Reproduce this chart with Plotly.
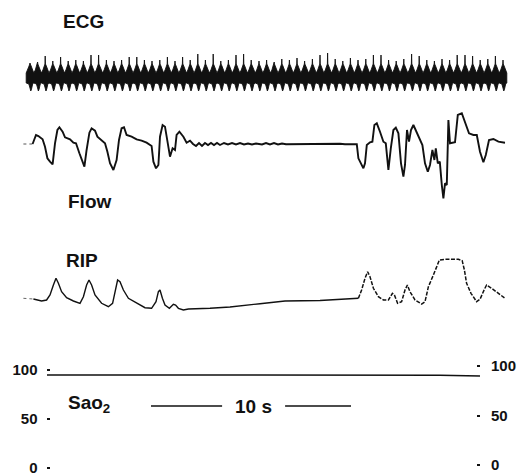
import numpy as np
import plotly.graph_objects as go

W, H = 519, 475
FONT = "Liberation Sans"

# ---------------- data (time in s; amplitudes in arbitrary units) ----------------
ecg_beat_t = [0.40, 0.78, 1.16, 1.54, 1.93, 2.31, 2.69, 3.07, 3.45, 3.83, 4.22, 4.60,
              4.98, 5.36, 5.74, 6.12, 6.50, 6.89, 7.27, 7.65, 8.03, 8.41, 8.79, 9.17,
              9.56, 9.94, 10.32, 10.70, 11.08, 11.46, 11.85, 12.23, 12.61, 12.99, 13.37,
              13.75, 14.13, 14.52, 14.90, 15.28, 15.66, 16.04, 16.42, 16.80, 17.19, 17.57,
              17.95, 18.33, 18.71, 19.09, 19.48, 19.86, 20.24, 20.62, 21.00, 21.38, 21.76,
              22.15, 22.53, 22.91, 23.29, 23.67, 24.05]
ecg_spike = [9, 10, 16, 11, 15, 11, 12, 11, 17, 17, 12, 11, 12, 15, 15, 12, 11, 12, 15,
             11, 15, 12, 18, 12, 18, 11, 12, 17, 18, 12, 11, 12, 10, 13, 12, 14, 11, 13,
             17, 19, 13, 11, 14, 12, 13, 17, 17, 12, 11, 13, 18, 16, 12, 11, 13, 12, 17,
             17, 16, 12, 13, 16, 12]
# beat shape (phase as fraction of the beat interval, level)
ecg_upper_phase = [-0.5, -0.3, -0.12, -0.03, 0.0, 0.03, 0.15, 0.35]
ecg_upper_level = [-1, 2, 6, 8, None, 8, 6, 2]     # None -> spike height of that beat
ecg_lower_phase = [-0.5, -0.15, 0.0, 0.1, 0.2, 0.35]
ecg_lower_level = [-11, -12, -16, -19, -17, -12]

flow_lead_t = [0.07, 0.53]
flow_lead_v = [0, 0]
flow_t = [0.53, 0.70, 0.82, 1.03, 1.15, 1.27, 1.40, 1.53, 1.65, 1.77, 1.87, 2.03, 2.15,
          2.40, 2.57, 2.70, 2.87, 2.98, 3.12, 3.23, 3.37, 3.48, 3.65, 3.77, 3.98, 4.15,
          4.27, 4.40, 4.57, 4.73, 4.85, 4.98, 5.10, 5.23, 5.48, 5.73, 5.98, 6.23, 6.48,
          6.57, 6.70, 6.82, 6.90, 7.03, 7.15, 7.27, 7.40, 7.53, 7.65, 7.73, 7.87, 8.07,
          8.23, 8.40, 8.55, 8.70, 8.85, 9.00, 9.15, 9.30, 9.45, 9.60, 9.75, 9.90, 10.10,
          10.30, 10.50, 10.70, 10.90, 11.10, 11.30, 11.50, 11.70, 12.00, 12.20, 12.40,
          12.60, 12.80, 13.00, 13.20, 13.90, 14.90, 15.90, 16.15, 16.74, 16.82, 16.95,
          17.07, 17.15, 17.24, 17.40, 17.52, 17.62, 17.74, 17.90, 18.07, 18.19, 18.32,
          18.44, 18.57, 18.69, 18.82, 18.95, 19.07, 19.15, 19.25, 19.35, 19.45, 19.57,
          19.69, 19.85, 20.02, 20.15, 20.29, 20.40, 20.52, 20.62, 20.69, 20.79, 20.89,
          20.99, 21.07, 21.15, 21.24, 21.32, 21.40, 21.65, 21.79, 21.99, 22.19, 22.35,
          22.57, 22.74, 22.90, 23.07, 23.19, 23.35, 23.57, 23.82, 24.15]
flow_v = [0, 9, 8, 4.7, -2.7, -14.3, -17.7, -20.3, 0.7, 14, 16.7, 12.3, 6.7,
          4.7, 1.3, 0.7, -9.3, -15.3, -22.7, -6, 11.3, 15.7, 13.3, 7.3, 4, 0.7,
          -7.7, -19.3, -26, -16, 4, 15.7, 16.7, 9, 7.3, 4.7, 3.3, 1.3, -2,
          -17.7, -24.3, -21, 7.3, 19, 17.3, 4, -12.7, -4.3, -6, 9, 12.3, 7.3,
          1.3, 3.3, 0, -2, 1, -2, 1, -1, 1, -1, 1, -1, 1,
          -0.5, 1, -0.5, 1, -0.5, 0.5, -0.5, 0.5, -0.5, 1, -0.5,
          1, -0.5, 0.5, -0.3, 0, 0, 0.2, -0.3, -0.3, -14.3, -19.3,
          -24.3, -19.3, -1, 1.7, 2.3, 19, 20.7, 12.3, 2.3, 0.7, -26,
          -4.3, 14, 16.3, 10.7, -19.3, -32.7, -21, 14, 2.3, 14, 19,
          14, 5.7, -1, -19.3, -27.7, -21, -6, -16, -4.3, -19.3, -17.7,
          -41, -54.3, -39.3, -41, 24, 0.7, 1.7, 29, 30.7, 19, 10.7,
          9, 9, -7.7, -18.3, -11, 4, 5, 2.3, 1.3]

rip_lead_t = [0.07, 0.57]
rip_lead_v = [9.7, 9]
rip_t = [0.57, 0.98, 1.23, 1.40, 1.57, 1.70, 1.82, 1.98, 2.23, 2.57, 2.90, 3.07, 3.23,
         3.35, 3.48, 3.65, 3.98, 4.32, 4.53, 4.65, 4.78, 4.90, 5.07, 5.32, 5.73, 6.15,
         6.48, 6.70, 6.82, 6.90, 7.02, 7.15, 7.37, 7.57, 7.68, 7.82, 8.07, 8.32, 9.40,
         10.40, 11.90, 13.15, 14.90, 16.15, 16.82]
rip_v = [9, 7, 8, 13, 23, 29.7, 24.7, 16.3, 10.3, 7, 4.7, 11.3, 23,
         28, 23, 13, 4.7, 1.3, 4.7, 16.3, 28, 26.3, 18, 9.7, 4.7, 0.3,
         -0.3, 6.3, 16.3, 18, 9.7, 3, -0.3, 3.7, 3, -0.3, -2, -1, -0.3,
         1, 4.3, 7, 7.5, 8.7, 9.7]
# resumed breathing after the apnoea (faint, broken pen trace)
rip2_t = [16.82, 16.98, 17.15, 17.28, 17.40, 17.57,
          17.82, 18.07, 18.32, 18.52, 18.62, 18.78, 18.98, 19.15, 19.27, 19.40, 19.65,
          19.98, 20.15, 20.32, 20.57, 20.73, 20.87, 21.15, 21.82, 22.01, 22.12, 22.23,
          22.45, 22.73, 22.90, 23.12, 23.23, 23.48, 23.82, 24.15]
rip2_v = [9.7, 18, 29.7, 36.3, 31.3, 19.7,
          11.3, 8, 8, 14.7, 13, 4.7, 6.3, 18, 23, 16.3, 8,
          4, 6.3, 21.3, 33, 41.3, 48, 48.7, 48.7, 47.3, 38, 24.7,
          14.7, 6.3, 8.7, 18.7, 23, 19.7, 14.7, 9.7]

sao2_t = [1.25, 5.0, 10.0, 15.0, 20.0, 20.9, 22.9]
sao2_v = [95.0, 95.0, 95.0, 95.0, 94.9, 94.6, 93.9]
sao2_ticks = [0, 50, 100]

scale_bar_start = 6.45   # s
scale_bar_len = 10       # s
scale_label = "10 s"

channel_labels = ["ECG", "Flow", "RIP", "Sao<sub>2</sub>"]

# ---------------- build ECG band from beats ----------------
period = float(np.mean(np.diff(ecg_beat_t)))
up_x, up_y, lo_x, lo_y = [], [], [], []
for bt, hs in zip(ecg_beat_t, ecg_spike):
    for ph, lv in zip(ecg_upper_phase, ecg_upper_level):
        up_x.append(bt + ph * period)
        up_y.append(hs if lv is None else lv)
    for ph, lv in zip(ecg_lower_phase, ecg_lower_level):
        lo_x.append(bt + ph * period)
        lo_y.append(lv)
up_x.append(ecg_beat_t[-1] + 0.5 * period)
up_y.append(ecg_upper_level[0])
lo_x.append(ecg_beat_t[-1] + 0.5 * period)
lo_y.append(ecg_lower_level[0])
band_x = up_x + lo_x[::-1] + [up_x[0]]
band_y = up_y + lo_y[::-1] + [up_y[0]]

INK = "#111111"
fig = go.Figure()
fig.add_trace(go.Scatter(x=band_x, y=band_y, yaxis="y", mode="lines", fill="toself",
                         fillcolor=INK, line=dict(color=INK, width=0.9), hoverinfo="skip"))
fig.add_trace(go.Scatter(x=flow_lead_t, y=flow_lead_v, yaxis="y2", mode="lines",
                         line=dict(color="#555", width=1, dash="dot")))
fig.add_trace(go.Scatter(x=flow_t, y=flow_v, yaxis="y2", mode="lines",
                         line=dict(color=INK, width=1.9)))
fig.add_trace(go.Scatter(x=rip_lead_t, y=rip_lead_v, yaxis="y3", mode="lines",
                         line=dict(color="#666", width=1, dash="dot")))
fig.add_trace(go.Scatter(x=rip_t, y=rip_v, yaxis="y3", mode="lines",
                         line=dict(color=INK, width=1.4)))
fig.add_trace(go.Scatter(x=rip2_t, y=rip2_v, yaxis="y3", mode="lines",
                         line=dict(color=INK, width=1.5, dash="4px,1.5px")))
fig.add_trace(go.Scatter(x=sao2_t, y=sao2_v, yaxis="y4", mode="lines",
                         line=dict(color=INK, width=1.5)))
# invisible trace so the right-hand SaO2 axis is drawn
fig.add_trace(go.Scatter(x=[sao2_t[0]], y=[sao2_v[0]], yaxis="y5", mode="markers",
                         marker=dict(opacity=0), hoverinfo="skip"))


def dom(top_px, bot_px):
    return [1 - bot_px / H, 1 - top_px / H]


hidden = dict(visible=False, showgrid=False, zeroline=False, fixedrange=True)
tickfont = dict(family=FONT, size=15, color=INK, weight="bold")

label_mid = scale_bar_start + 5.13
gap = 1.575
fig.update_layout(
    width=W, height=H, margin=dict(l=0, r=0, t=0, b=0),
    paper_bgcolor="white", plot_bgcolor="white", showlegend=False,
    xaxis=dict(range=[-1.1, 24.85], domain=[0, 1], anchor="y", **hidden),
    yaxis=dict(domain=dom(40, 100), range=[-28, 32], anchor="x", **hidden),
    yaxis2=dict(domain=dom(105, 205), range=[-61, 39], anchor="x", **hidden),
    yaxis3=dict(domain=dom(250, 320), range=[-12, 58], anchor="x", **hidden),
    yaxis4=dict(domain=dom(355, 475), range=[-7.14, 115.3], anchor="free",
                position=49.5 / W, side="left", showgrid=False, zeroline=False,
                showline=False, ticks="outside", ticklen=3, tickwidth=1.5,
                tickcolor=INK, tickvals=sao2_ticks, tickfont=tickfont,
                ticklabelstandoff=6, ticklabeloverflow="allow", fixedrange=True),
    yaxis5=dict(range=[-10.1, 111.1], overlaying="y4", anchor="free",
                position=476 / W, side="right", showgrid=False, zeroline=False,
                showline=False, ticks="outside", ticklen=3, tickwidth=1.5,
                tickcolor=INK, tickvals=sao2_ticks, tickfont=tickfont,
                ticklabelstandoff=8, ticklabeloverflow="allow", fixedrange=True),
    shapes=[
        dict(type="line", xref="x", yref="paper",
             x0=scale_bar_start, x1=label_mid - gap,
             y0=1 - 406 / H, y1=1 - 406 / H, line=dict(color=INK, width=1.6)),
        dict(type="line", xref="x", yref="paper",
             x0=label_mid + gap, x1=scale_bar_start + scale_bar_len,
             y0=1 - 406 / H, y1=1 - 406 / H, line=dict(color=INK, width=1.6)),
    ],
)

lab_font = dict(family=FONT, size=19, color=INK, weight="bold")
label_pos = [(61, 22), (66, 201), (64, 260), (66, 404)]
for txt, (px, py) in zip(channel_labels, label_pos):
    fig.add_annotation(text=txt, xref="paper", yref="paper", x=px / W, y=1 - py / H,
                       xanchor="left", yanchor="middle", showarrow=False, font=lab_font)
fig.add_annotation(text=scale_label, xref="x", yref="paper", x=label_mid, y=1 - 406 / H,
                   xanchor="center", yanchor="middle", showarrow=False, font=lab_font)

fig.write_html("out.html", config={"displayModeBar": False},
               post_script="document.body.style.margin='0';document.body.style.overflow='hidden';")
